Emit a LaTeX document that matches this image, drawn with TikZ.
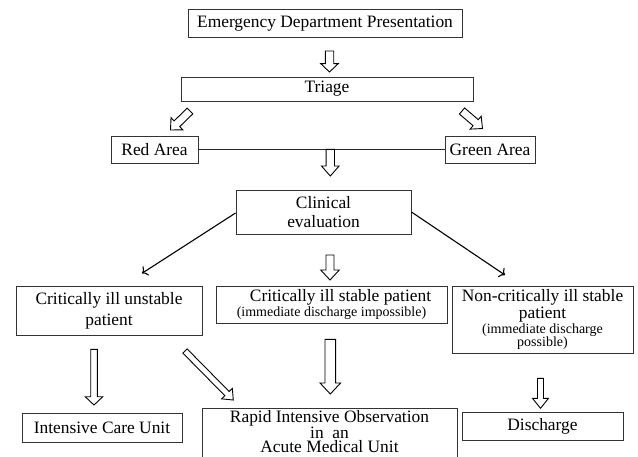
\documentclass[tikz,border=0pt]{standalone}
\usepackage{fontspec}
\setmainfont{Liberation Serif}
\usetikzlibrary{calc,arrows.meta}
% hollow block arrow: from, to, shaft half-width, head half-width, head length (pt)
\newcommand\blockarr[5]{%
  \coordinate (bah) at ($(#2)!#5pt!(#1)$);
  \draw[blk] ($(#1)!#3pt!90:(#2)$) -- ($(bah)!#3pt!90:(#2)$) -- ($(bah)!#4pt!90:(#2)$)
    -- (#2) -- ($(bah)!#4pt!-90:(#2)$) -- ($(bah)!#3pt!-90:(#2)$) -- ($(#1)!#3pt!-90:(#2)$) -- cycle;}
\begin{document}
\begin{tikzpicture}[x=1pt,y=-1pt,
  box/.style={draw=black!80, line width=0.9pt, inner sep=0pt, align=center,
    font=\fontsize{17.4}{20}\selectfont},
  txt/.style={inner sep=0pt, align=center, font=\fontsize{17.4}{20}\selectfont},
  blk/.style={draw=black, line width=0.9pt, fill=white, line join=miter},
  thinarr/.style={draw=black, line width=1.1pt, -{To[length=5pt,width=11pt]}}]
\useasboundingbox (0,0) rectangle (638,456);
% boxes
\node[box, minimum width=274pt, minimum height=28pt] (emerg) at (325,23.5) {Emergency Department Presentation};
\node[box, minimum width=292pt, minimum height=24pt] (triage) at (327,89) {Triage};
\node[box, minimum width=87pt, minimum height=27pt] (red) at (154.5,149.5) {Red Area};
\node[box, minimum width=90pt, minimum height=27pt] (green) at (490,149.5) {Green Area};
\node[box, minimum width=175pt, minimum height=44pt, font=\fontsize{17.4}{18.7}\selectfont] (clin) at (323.5,212) {Clinical\\evaluation};
\node[box, minimum width=186pt, minimum height=49pt, font=\fontsize{17.4}{21}\selectfont] (unst) at (109,310.5) {Critically ill unstable\\patient};
\node[box, minimum width=231pt, minimum height=37pt, font=\fontsize{17.4}{15}\selectfont] (stab) at (331.5,304.5)
  {\hspace*{18pt}Critically ill stable patient\\{\fontsize{14}{15}\selectfont(immediate discharge impossible)}};
\node[box, minimum width=181pt, minimum height=67pt, font=\fontsize{17.4}{16.7}\selectfont] (nonc) at (542.5,319.5)
  {Non-critically ill stable\\patient\\[-1.7pt]{\fontsize{14}{15}\selectfont(immediate discharge}\\[-3.5pt]{\fontsize{14}{15}\selectfont possible)}};
\node[box, minimum width=160pt, minimum height=29pt] (icu) at (102,427.5) {Intensive Care Unit};
\node[box, minimum width=255pt, minimum height=50pt] (rapid) at (329.5,433) {};
\node[txt, font=\fontsize{17.4}{13.8}\selectfont] (rapidtxt) at (329.5,431.5)
  {Rapid Intensive Observation\\in\ \ an\\Acute Medical Unit};
\node[box, minimum width=161pt, minimum height=28pt] (disch) at (542.5,426) {Discharge};
% line between areas
\draw[draw=black!85, line width=1pt] (red.east) -- (green.west);
% block arrow end points
\coordinate (a1s) at (329.5,51);   \coordinate (a1e) at (329.5,72);
\coordinate (a2s) at (190,111);    \coordinate (a2e) at (170.5,130);
\coordinate (a3s) at (462,111);    \coordinate (a3e) at (482.5,128.5);
\coordinate (a4s) at (330.3,149.3);\coordinate (a4e) at (330.3,176);
\coordinate (a5s) at (330,255);    \coordinate (a5e) at (330,280);
\coordinate (a6s) at (94,349.3);   \coordinate (a6e) at (94,405);
\coordinate (a7s) at (185,351);    \coordinate (a7e) at (233.3,400);
\coordinate (a8s) at (330.3,339.3);\coordinate (a8e) at (330.3,394);
\coordinate (a9s) at (540.5,378.3);\coordinate (a9e) at (540.5,408.3);
\blockarr{a1s}{a1e}{4.2}{8.8}{8.4}
\blockarr{a2s}{a2e}{4}{8.5}{9}
\blockarr{a3s}{a3e}{4}{8.5}{9}
\blockarr{a4s}{a4e}{4.2}{8.8}{10}
\blockarr{a5s}{a5e}{4}{9.3}{10}
\blockarr{a6s}{a6e}{3.3}{8.8}{8.3}
\blockarr{a7s}{a7e}{3}{7.5}{9}
\blockarr{a8s}{a8e}{5.3}{10.3}{11}
\blockarr{a9s}{a9e}{3}{8}{10}
% thin arrows
\coordinate (t1) at (142,273.3);
\coordinate (t2) at (505,275);
\draw[thinarr] ($(clin.west)+(0,1)$) -- (t1);
\draw[thinarr] (clin.east) -- (t2);
\end{tikzpicture}
\end{document}
